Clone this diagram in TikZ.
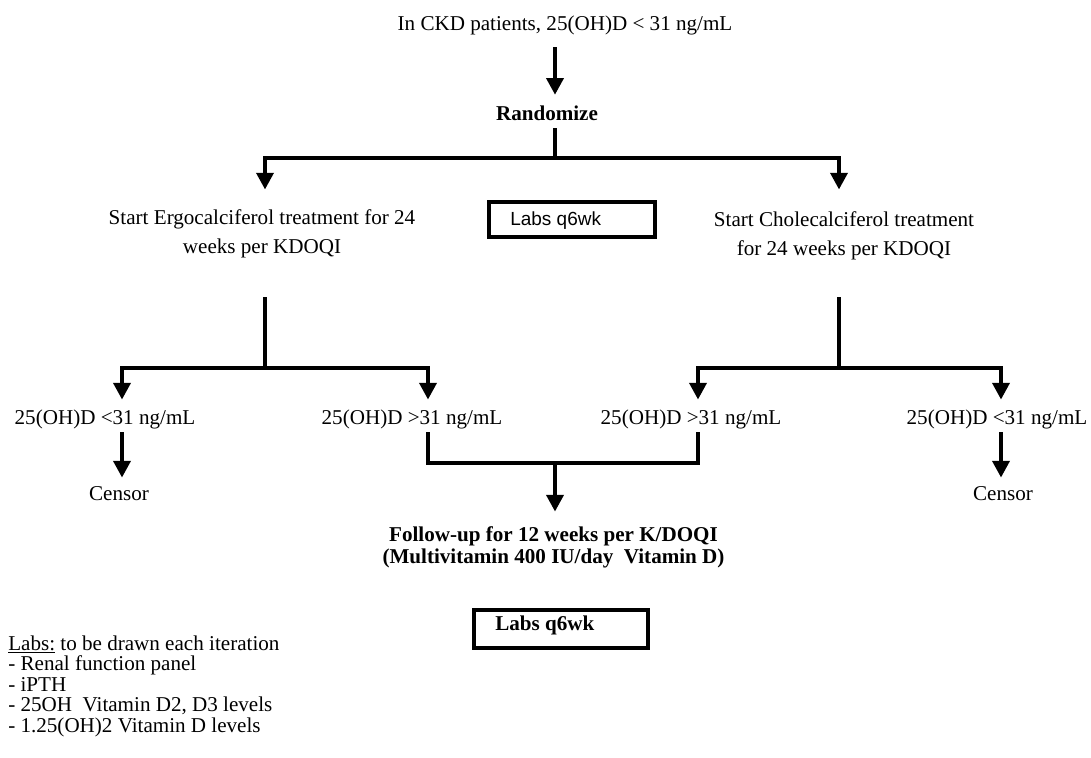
\documentclass[tikz,border=0pt]{standalone}
\usepackage{fontspec}
\setmainfont{Liberation Serif}
\newfontfamily\labsfont{Liberation Sans}
\usetikzlibrary{arrows.meta,positioning}

\tikzset{
  lbl/.style={inner sep=0pt, text height=10.5pt, text depth=3pt, font=\fontsize{15}{18}\selectfont},
  twoline/.style={inner sep=0pt, align=center, font=\fontsize{15}{20.6}\selectfont},
  flow/.style={line width=3.1pt},
  flowarr/.style={flow, -{Triangle[length=0.42cm,width=0.42cm]}},
  labbox/.style={draw, line width=2.8pt, inner sep=0pt},
}

\begin{document}
\begin{tikzpicture}[x=0.025cm, y=-0.025cm]
    \useasboundingbox (0,0) rectangle (1091,757);
    % Screening and randomisation
    \node[lbl] (screen) at (565,25) {In CKD patients, 25(OH)D < 31 ng/mL};
    \node[lbl, font=\fontsize{15}{18}\selectfont\bfseries] (rand) at (547,115) {Randomize};
    \coordinate (split) at (555,158);
    \draw[flowarr, shorten <=0.31cm, shorten >=0.26cm] (screen.south -| split) -- (rand.north -| split);
    \draw[flow, shorten <=0.09cm] (rand.south -| split) -- (split);
    % Treatment arms
    \node[twoline] (ergo) at (262,233.6) {Start Ergocalciferol treatment for 24\\weeks per KDOQI};
    \node[twoline] (chole) at (844,235.6) {Start Cholecalciferol treatment\\for 24 weeks per KDOQI};
    \node[labbox, minimum width=4.15cm, minimum height=0.875cm] (labsA) at (572,219.5) {};
    \node[anchor=base west, inner sep=0pt, font=\labsfont\fontsize{13.5}{16}\selectfont] (labsAtext) at (510,225) {Labs q6wk};
    \coordinate (forkL) at (265,368);
    \coordinate (forkR) at (839,368);
    \draw[flowarr, shorten >=0.49cm] (split) -| (forkL |- ergo.north);
    \draw[flowarr, shorten >=0.54cm] (split) -| (forkR |- chole.north);
    \draw[flow, shorten <=0.975cm] (ergo.south -| forkL) -- (forkL);
    \draw[flow, shorten <=0.93cm] (chole.south -| forkR) -- (forkR);
    % 25(OH)D results
    \node[lbl] (lowA) at (105,419) {25(OH)D <31 ng/mL};
    \node[lbl] (lowB) at (412,419) {25(OH)D >31 ng/mL};
    \node[lbl] (lowC) at (691,419) {25(OH)D >31 ng/mL};
    \node[lbl] (lowD) at (997,419) {25(OH)D <31 ng/mL};
    \draw[flowarr, shorten >=0.24cm] (forkL) -| ([xshift=0.425cm]lowA.north);
    \draw[flowarr, shorten >=0.24cm] (forkL) -| ([xshift=0.4cm]lowB.north);
    \draw[flowarr, shorten >=0.24cm] (forkR) -| ([xshift=0.175cm]lowC.north);
    \draw[flowarr, shorten >=0.24cm] (forkR) -| ([xshift=0.1cm]lowD.north);
    % Censored
    \node[lbl] (censA) at (119,495) {Censor};
    \node[lbl] (censD) at (1003,495) {Censor};
    \draw[flowarr, shorten <=0.09cm, shorten >=0.19cm] ([xshift=0.425cm]lowA.south) -- ([xshift=0.425cm]lowA.south |- censA.north);
    \draw[flowarr, shorten <=0.09cm, shorten >=0.19cm] ([xshift=0.1cm]lowD.south) -- ([xshift=0.1cm]lowD.south |- censD.north);
    % Follow-up
    \coordinate (merge) at (555,463);
    \draw[flow, shorten <=0.09cm, shorten >=0.09cm] ([xshift=0.4cm]lowB.south) |- (merge) -| ([xshift=0.175cm]lowC.south);
    \node[twoline, font=\fontsize{15}{15.6}\selectfont\bfseries] (follow) at (553.5,547) {Follow-up for 12 weeks per K/DOQI\\(Multivitamin 400 IU/day\ \ Vitamin D)};
    \draw[flowarr, shorten >=0.36cm] (merge) -- (merge |- follow.north);
    \node[labbox, minimum width=4.35cm, minimum height=0.95cm] (labsB) at (561,629) {};
    \node[anchor=base west, inner sep=0pt, font=\fontsize{15}{18}\selectfont\bfseries] (labsBtext) at (495,630) {Labs q6wk};
    % Lab list
    \foreach \txt [count=\i from 0] in {{\underline{Labs:} to be drawn each iteration}, {- Renal function panel}, {- iPTH}, {- 25OH\ \ Vitamin D2, D3 levels}, {- 1.25(OH)2 Vitamin D levels}} {
        \node[anchor=base west, inner sep=0pt, font=\fontsize{15}{18}\selectfont] (lab\i) at (8,{650+20.5*\i}) {\txt};
    }
\end{tikzpicture}
\end{document}
